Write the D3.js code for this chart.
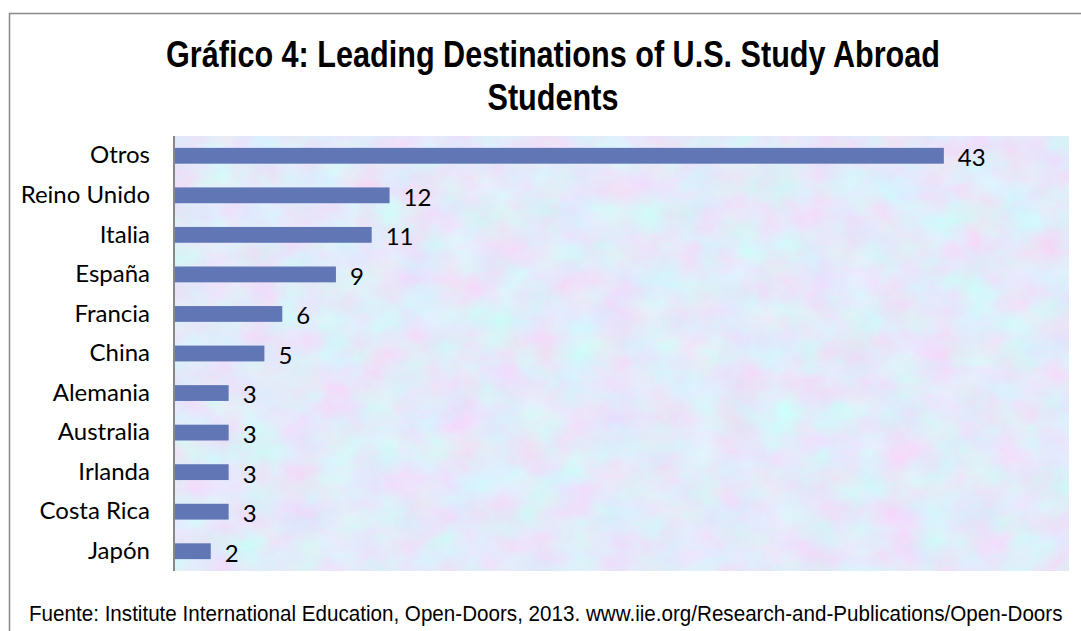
<!DOCTYPE html>
<html>
<head>
<meta charset="utf-8">
<script src="https://cdn.jsdelivr.net/npm/d3@7"></script>
<style>
  body { margin: 0; background: #fff; }
  svg { display: block; }
</style>
</head>
<body>
<div id="chart"></div>
<script>
// data
const countries = ['Otros', 'Reino Unido', 'Italia', 'España', 'Francia', 'China',
  'Alemania', 'Australia', 'Irlanda', 'Costa Rica', 'Japón'];
const shares = [43, 12, 11, 9, 6, 5, 3, 3, 3, 3, 2];
const titleLines = ['Gráfico 4: Leading Destinations of U.S. Study Abroad', 'Students'];
const sourceNote = 'Fuente: Institute International Education, Open-Doors, 2013. www.iie.org/Research-and-Publications/Open-Doors';

const width = 1081;
const height = 631;

const svg = d3.select('#chart')
  .append('svg')
  .attr('width', width)
  .attr('height', height);

// marbled background texture for the plot area
const defs = svg.append('defs');
const filter = defs.append('filter')
  .attr('id', 'marble')
  .attr('x', 0).attr('y', 0).attr('width', 1).attr('height', 1);
filter.append('feTurbulence')
  .attr('type', 'fractalNoise')
  .attr('baseFrequency', '0.025 0.03')
  .attr('numOctaves', 5)
  .attr('seed', 7)
  .attr('result', 'noise');
filter.append('feColorMatrix')
  .attr('in', 'noise')
  .attr('type', 'matrix')
  .attr('values', '0.3 -0.2 0 0 0.72  -0.16 0.3 0 0 0.755  0 0 0.14 0 0.88  0 0 0 0 1');

// outer frame (right and bottom edges fall outside the picture)
svg.append('path')
  .attr('d', `M9.5,${height + 5}V13.5H${width + 5}`)
  .attr('fill', 'none')
  .attr('stroke', '#888')
  .attr('stroke-width', 1.5);

const plot = { left: 175, right: 1069, top: 136, bottom: 571 };

const x = d3.scaleLinear()
  .domain([0, 50])
  .range([plot.left, plot.right]);

const y = d3.scaleBand()
  .domain(countries)
  .range([plot.top, plot.bottom])
  .paddingInner(0.6)
  .paddingOuter(0.3);

svg.append('rect')
  .attr('x', plot.left)
  .attr('y', plot.top)
  .attr('width', plot.right - plot.left)
  .attr('height', plot.bottom - plot.top)
  .attr('fill', '#cbd6f2')
  .attr('filter', 'url(#marble)');

// bars
svg.append('g')
  .selectAll('rect')
  .data(countries)
  .enter().append('rect')
  .attr('x', x(0))
  .attr('y', d => y(d))
  .attr('width', (d, i) => x(shares[i]) - x(0))
  .attr('height', y.bandwidth())
  .attr('fill', '#6176b5');

// value labels
svg.append('g')
  .selectAll('text')
  .data(countries)
  .enter().append('text')
  .attr('x', (d, i) => x(shares[i]) + 14)
  .attr('y', d => y(d) + y.bandwidth() / 2 + 2)
  .attr('dy', '0.35em')
  .attr('font-family', 'Lato, "Open Sans", sans-serif')
  .attr('font-size', 24)
  .attr('fill', '#000')
  .text((d, i) => shares[i]);

// category axis
const yAxis = svg.append('g')
  .attr('transform', `translate(${plot.left - 1},0)`)
  .call(d3.axisLeft(y).tickSize(0).tickPadding(24));
yAxis.select('.domain')
  .attr('stroke', '#888')
  .attr('stroke-width', 2)
  .attr('d', `M0,${plot.top}V${plot.bottom}`);
yAxis.selectAll('text')
  .attr('font-family', 'Lato, "Open Sans", sans-serif')
  .attr('font-size', 24)
  .attr('fill', '#000');

// title
svg.append('g')
  .selectAll('text')
  .data(titleLines)
  .enter().append('text')
  .attr('x', 553)
  .attr('y', (d, i) => 67 + i * 43)
  .attr('text-anchor', 'middle')
  .attr('font-family', '"Liberation Sans Narrow", "Liberation Sans", Arial, sans-serif')
  .attr('font-weight', 'bold')
  .attr('font-size', 36)
  .attr('textLength', (d, i) => i === 0 ? 774 : 131)
  .attr('lengthAdjust', 'spacingAndGlyphs')
  .text(d => d);

// source note, squeezed horizontally like the narrow font in the original
const note = svg.append('text')
  .attr('font-family', '"Liberation Sans", Arial, sans-serif')
  .attr('font-size', 22)
  .text(sourceNote);
const squeeze = 1034 / note.node().getComputedTextLength();
note.attr('transform', `translate(29,621) scale(${squeeze},1)`);
</script>
</body>
</html>
